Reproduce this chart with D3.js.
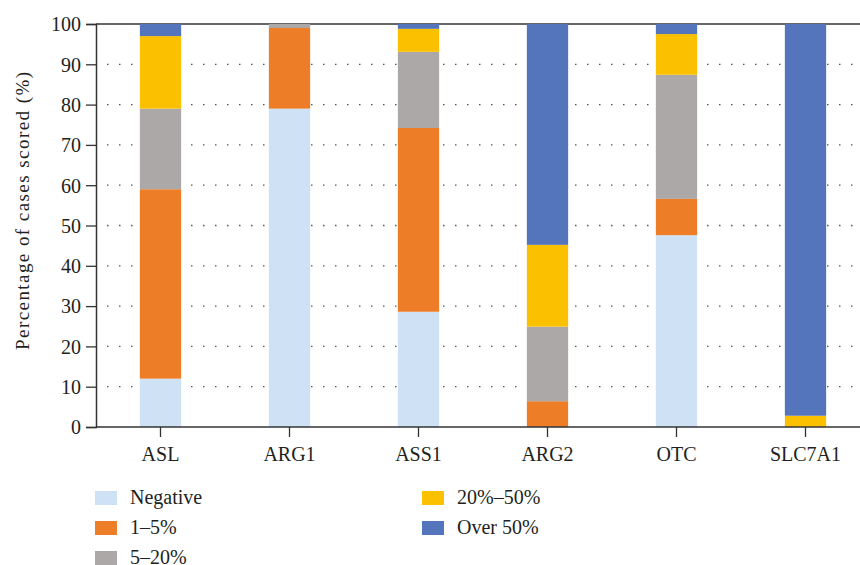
<!DOCTYPE html>
<html>
<head>
<meta charset="utf-8">
<script src="https://cdn.jsdelivr.net/npm/d3@7"></script>
<style>
  body { margin: 0; background: #fff; }
  text { font-family: "Liberation Serif", "DejaVu Serif", serif; fill: #231f20; }
</style>
</head>
<body>
<div id="chart"></div>
<script>
// data
const genes = ["ASL", "ARG1", "ASS1", "ARG2", "OTC", "SLC7A1"];
const seriesNames = ["Negative", "1\u20135%", "5\u201320%", "20%\u201350%", "Over 50%"];
const negative = [12, 79, 28.6, 0, 47.6, 0];
const low = [47, 20, 45.6, 6.4, 9.0, 0];
const mid = [20, 1, 18.9, 18.5, 30.8, 0];
const high = [18, 0, 5.7, 20.3, 10.1, 2.8];
const over50 = [3, 0, 1.2, 54.8, 2.5, 97.2];
const yTicks = [0, 10, 20, 30, 40, 50, 60, 70, 80, 90, 100];
const colors = ["#cfe2f5", "#ed7d27", "#aba8a7", "#fbc000", "#5475bc"];

const config = {
    width: 860,
    height: 565,
    left: 96, right: 870, top: 24, bottom: 427
};

const keys = ["neg", "low", "mid", "high", "over"];
const rows = genes.map((g, i) => ({
    gene: g, neg: negative[i], low: low[i], mid: mid[i], high: high[i], over: over50[i]
}));

const svg = d3.select("#chart").append("svg")
    .attr("width", config.width)
    .attr("height", config.height);

const x = d3.scaleBand().domain(genes).range([config.left, config.right]).paddingInner(0.68).paddingOuter(0.34);
const y = d3.scaleLinear().domain([0, 100]).range([config.bottom, config.top]);

// dotted gridlines
svg.append("g")
    .selectAll("line")
    .data(yTicks.filter(d => d > 0 && d < 100))
    .join("line")
    .attr("x1", config.left + 11)
    .attr("x2", config.width)
    .attr("y1", d => y(d))
    .attr("y2", d => y(d))
    .attr("stroke", "#555")
    .attr("stroke-width", 1.3)
    .attr("stroke-dasharray", "1.5 10.5");

// top border
svg.append("line")
    .attr("x1", config.left).attr("x2", config.width)
    .attr("y1", y(100)).attr("y2", y(100))
    .attr("stroke", "#333").attr("stroke-width", 1.5);

// stacked bars
const stacked = d3.stack().keys(keys)(rows);
svg.append("g")
    .selectAll("g")
    .data(stacked)
    .join("g")
    .attr("fill", (d, i) => colors[i])
    .selectAll("rect")
    .data(d => d)
    .join("rect")
    .attr("x", d => x(d.data.gene))
    .attr("width", x.bandwidth())
    .attr("y", d => y(d[1]))
    .attr("height", d => y(d[0]) - y(d[1]));

// axes
const yAxis = svg.append("g")
    .attr("transform", `translate(${config.left},0)`)
    .call(d3.axisLeft(y).tickValues(yTicks).tickSize(10).tickPadding(5));
const xAxis = svg.append("g")
    .attr("transform", `translate(0,${config.bottom})`)
    .call(d3.axisBottom(x).tickSize(10).tickPadding(10));

[yAxis, xAxis].forEach(a => {
    a.select(".domain").attr("stroke", "#333").attr("stroke-width", 1.5);
    a.selectAll(".tick line").attr("stroke", "#333").attr("stroke-width", 1.3);
    a.selectAll(".tick text").attr("font-size", 20).attr("fill", "#231f20");
});
yAxis.selectAll(".tick text").attr("dy", "0.34em");
xAxis.select(".domain").attr("d", `M${config.left},0H${config.width}`);

svg.append("text")
    .attr("transform", `translate(29,211) rotate(-90)`)
    .attr("text-anchor", "middle")
    .attr("font-size", 19)
    .attr("textLength", 278)
    .attr("lengthAdjust", "spacing")
    .text("Percentage of cases scored (%)");

// legend
const legendPos = [[95, 491], [95, 521], [95, 551], [422, 491], [422, 521]];
const legend = svg.append("g")
    .selectAll("g")
    .data(seriesNames)
    .join("g")
    .attr("transform", (d, i) => `translate(${legendPos[i][0]},${legendPos[i][1]})`);
legend.append("rect")
    .attr("width", 22).attr("height", 14)
    .attr("fill", (d, i) => colors[i]);
legend.append("text")
    .attr("x", 35).attr("y", 12.5)
    .attr("font-size", 20)
    .text(d => d);
</script>
</body>
</html>
